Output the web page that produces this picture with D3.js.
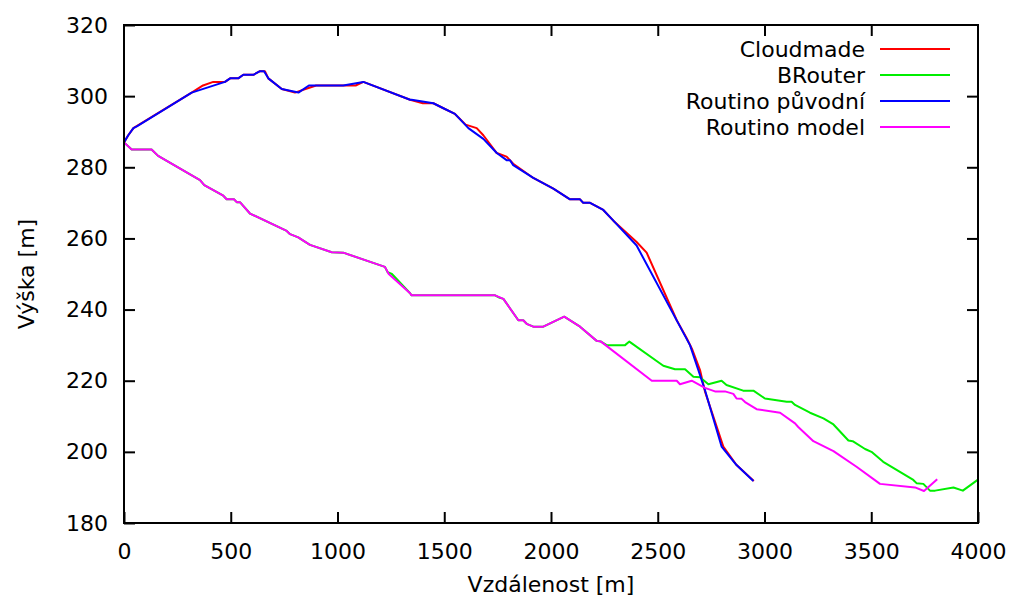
<html>
  <head>
    <title>Výška</title>
    <script type="text/javascript" src="https://cdn.jsdelivr.net/npm/d3@7"></script>
    <style type="text/css">

body {
  margin: 0;
  background: #fff;
  font: 22px "DejaVu Sans", sans-serif;
}

.frame {
  fill: none;
  stroke: black;
  stroke-width: 2px;
}

.tick line {
  stroke: #000;
  stroke-width: 2px;
}

.tick text {
  font-size: 22px;
  font-family: "DejaVu Sans", sans-serif;
  fill: #000;
}

path.route {
  fill: none;
  stroke-width: 2px;
  stroke-linejoin: round;
}

    </style>
  </head>
  <body>
    <script type="text/javascript">

// [vzdálenost m, výška m]
var cloudmade = [[0,287],[20,289],[44,291],[317,301],[370,303],[418,304],[473,304],[497,305],[535,305],
  [559,306],[606,306],[637,307],[660,307],[676,305],[739,302],[801,301],[850,302],[900,303],[1000,303],
  [1085,303],[1121,304],[1340,299],[1400,298],[1449,298],[1496,296.6],[1550,295],[1600,292],[1652,291],
  [1683,289],[1746,284],[1792,283],[1823,281],[1917,277],[2011,274],[2089,271],[2136,271],[2151,270],
  [2183,270],[2245,268],[2292,265],[2401,259],[2448,256],[2589,237],[2635,232],[2660,229],[2698,223],
  [2721,217],[2807,201.5],[2869,196.3],[2950,191.8]];

var brouter = [[0,287],[36,285],[129,285],[160,283.2],[356,276.4],[376,275],[465,272],[481,271],[515,271],
  [528,270.2],[543,270.2],[590,267],[762,262.1],[778,261.2],[816,260.3],[871,258.2],[973,256.1],[1027,256],
  [1222,252],[1235,250.5],[1255,250],[1340,244.6],[1347,244],[1738,244],[1760,243.3],[1777,243],[1847,237],
  [1870,237],[1886,236],[1917,235.2],[1964,235.2],[2062,238],[2136,235.2],[2214,231.2],[2234,231],[2261,230],
  [2347,230],[2367,231],[2526,224.2],[2581,223.2],[2628,223.2],[2667,221.1],[2698,221],[2737,219],[2799,220],
  [2822,218.8],[2900,217.2],[2948,217.2],[3002,215],[3104,214.1],[3127,214.1],[3143,213.2],[3213,211],
  [3276,209.4],[3323,207.7],[3393,203.2],[3413,203],[3471,200.8],[3501,200],[3556,197.2],[3697,192.1],
  [3712,191.2],[3744,191],[3775,189.1],[3799,189.1],[3885,190],[3929,189.1],[4000,192.2]];

var routinoOrig = [[0,287],[20,289],[44,291],[60,291.5],[317,301],[473,304],[497,305],[535,305],[559,306],
  [606,306],[637,307],[656,307],[676,305],[739,302],[817,301],[866,303],[1027,303],[1121,304],[1340,299],
  [1347,299],[1449,298],[1496,296.6],[1550,295],[1613,291],[1683,288],[1746,284],[1792,282],[1808,282],
  [1823,280.6],[1917,277],[2011,274],[2089,271],[2136,271],[2151,270],[2183,270],[2245,268],[2292,265],
  [2401,258],[2651,230],[2690,223],[2721,217.4],[2799,201.5],[2869,196.3],[2948,191.8]];

var routinoModel = [[0,287],[36,285],[129,285],[160,283.2],[356,276.4],[376,275],[465,272],[481,271],[515,271],
  [528,270.2],[543,270.2],[590,267],[762,262.1],[778,261.2],[816,260.3],[871,258.2],[973,256.1],[1027,256],
  [1222,252],[1240,250],[1340,244.6],[1347,244],[1738,244],[1777,243],[1847,237],[1870,237],[1886,236],
  [1917,235.2],[1964,235.2],[2062,238],[2136,235.2],[2214,231.2],[2234,231],[2472,220],[2589,220],[2604,219],
  [2659,220],[2721,218],[2768,217],[2815,217],[2854,216.3],[2869,215],[2893,214.9],[2909,214],[2963,212],
  [3073,211],[3143,208],[3158,207],[3229,203],[3323,200.2],[3431,195.8],[3541,191],[3705,190],[3747,189],
  [3809,192.3]];

var seriesNames = ["Cloudmade", "BRouter", "Routino původní", "Routino model"];
var seriesColors = ["#ff0000", "#00ee00", "#0000ff", "#ff00ff"];
var seriesData = [cloudmade, brouter, routinoOrig, routinoModel];

var xTicks = d3.range(0, 4001, 500),
    yTicks = d3.range(180, 321, 20);

var W = 1013, H = 603,
    pL = 124, pR = 978, pT = 25, pB = 523,
    tl = 11;

var x = d3.scaleLinear().domain([0, 4000]).range([pL, pR]),
    y = d3.scaleLinear().domain([180, 320]).range([pB, pT]);

var svg = d3.select("body")
  .append("svg")
    .attr("width", W)
    .attr("height", H);

// ticks on all four sides, pointing inwards
svg.append("g")
    .attr("transform", "translate(0," + pB + ")")
    .call(d3.axisBottom(x).tickValues(xTicks).tickSize(-tl).tickPadding(tl + 9).tickFormat(d3.format("d")))
    .call(function(g) { g.select(".domain").remove(); });

svg.append("g")
    .attr("transform", "translate(0," + pT + ")")
    .call(d3.axisTop(x).tickValues(xTicks.slice(1, -1)).tickSize(-tl).tickFormat(""))
    .call(function(g) { g.select(".domain").remove(); });

svg.append("g")
    .attr("transform", "translate(" + pL + ",0)")
    .call(d3.axisLeft(y).tickValues(yTicks).tickSize(-tl).tickPadding(tl + 5).tickFormat(d3.format("d")))
    .call(function(g) { g.select(".domain").remove(); });

svg.append("g")
    .attr("transform", "translate(" + pR + ",0)")
    .call(d3.axisRight(y).tickValues(yTicks.slice(1, -1)).tickSize(-tl).tickFormat(""))
    .call(function(g) { g.select(".domain").remove(); });

var line = d3.line()
    .x(function(d) { return x(d[0]); })
    .y(function(d) { return y(d[1]); });

svg.selectAll("path.route")
    .data(seriesData)
  .enter().append("path")
    .attr("class", "route")
    .attr("stroke", function(d, i) { return seriesColors[i]; })
    .attr("d", line);

svg.append("rect")
    .attr("class", "frame")
    .attr("x", pL)
    .attr("y", pT)
    .attr("width", pR - pL)
    .attr("height", pB - pT);

// legend
var leg = svg.selectAll("g.leg")
    .data(seriesNames)
  .enter().append("g")
    .attr("class", "leg")
    .attr("transform", function(d, i) { return "translate(0," + (49 + i * 26) + ")"; });

leg.append("text")
    .attr("x", 865)
    .attr("dy", ".35em")
    .attr("text-anchor", "end")
    .text(function(d) { return d; });

leg.append("line")
    .attr("x1", 880)
    .attr("x2", 950)
    .attr("stroke-width", 2)
    .attr("stroke", function(d, i) { return seriesColors[i]; });

svg.append("text")
    .attr("x", (pL + pR) / 2)
    .attr("y", 592)
    .attr("text-anchor", "middle")
    .text("Vzdálenost [m]");

svg.append("text")
    .attr("transform", "translate(34," + ((pT + pB) / 2) + ") rotate(-90)")
    .attr("text-anchor", "middle")
    .text("Výška [m]");

    </script>
  </body>
</html>
